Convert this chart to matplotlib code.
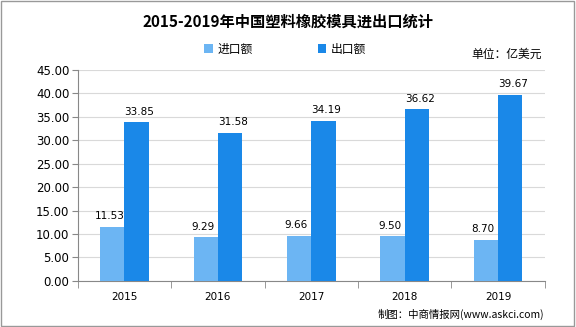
import numpy as np
import matplotlib
matplotlib.use("Agg")
import matplotlib.pyplot as plt
from matplotlib.patches import Rectangle

plt.rcParams['font.family'] = ['Noto Sans CJK SC', 'DejaVu Sans']

years = ['2015', '2016', '2017', '2018', '2019']
imports = [11.53, 9.29, 9.66, 9.50, 8.70]
exports = [33.85, 31.58, 34.19, 36.62, 39.67]

fig = plt.figure(figsize=(5.76, 3.27), dpi=100)
ax = fig.add_axes([0.135, 0.141, 0.811, 0.645])

x = np.arange(len(years))
w = 0.26
b1 = ax.bar(x - w / 2, imports, w, color='#6cb5f3', label='进口额', zorder=3)
b2 = ax.bar(x + w / 2, exports, w, color='#1a88e8', label='出口额', zorder=3)

# value labels above bars
for rect, v in zip(b1, imports):
    ax.text(rect.get_x() + rect.get_width() / 2 - 0.03, v + 1.2, '%.2f' % v,
            ha='center', va='bottom', fontsize=7.5, family='DejaVu Sans')
for rect, v in zip(b2, exports):
    ax.text(rect.get_x() + rect.get_width() / 2 + 0.03, v + 1.2, '%.2f' % v,
            ha='center', va='bottom', fontsize=7.5, family='DejaVu Sans')

ax.set_xlim(-0.5, 4.5)
ax.set_ylim(0, 45)
ax.set_yticks(np.arange(0, 46, 5))
ax.set_yticklabels(['%.2f' % t for t in np.arange(0, 46, 5)], fontsize=8.5,
                   family='DejaVu Sans')
ax.set_xticks(x)
ax.set_xticklabels(years, fontsize=7.5, family='DejaVu Sans')
ax.tick_params(axis='x', length=0, pad=8)
ax.set_xticks(np.arange(-0.5, 5, 1), minor=True)
ax.tick_params(axis='x', which='minor', length=5, color='#888888')
ax.tick_params(axis='y', length=4, color='#888888', pad=2)
ax.yaxis.grid(True, color='#d9d9d9', linewidth=0.8, zorder=0)
for s in ['top', 'right']:
    ax.spines[s].set_visible(False)
ax.spines['left'].set_color('#888888')
ax.spines['bottom'].set_color('#888888')

fig.text(0.5, 0.935, '2015-2019年中国塑料橡胶模具进出口统计', ha='center', va='center',
         fontsize=11, fontweight='bold')
fig.legend(handles=[b1, b2], loc='center', bbox_to_anchor=(0.495, 0.85), ncol=2,
           frameon=False, fontsize=8.5, handlelength=0.7, handleheight=0.7,
           columnspacing=5.5, handletextpad=0.4)
fig.text(0.94, 0.835, '单位：亿美元', ha='right', va='center', fontsize=8.5)
fig.text(0.945, 0.04, '制图：中商情报网(www.askci.com)', ha='right', va='center', fontsize=7.5)

fig.patches.append(Rectangle((0.002, 0.003), 0.995, 0.993, transform=fig.transFigure,
                             fill=False, edgecolor='#999999', linewidth=1))

fig.savefig('out.png', dpi=100)
